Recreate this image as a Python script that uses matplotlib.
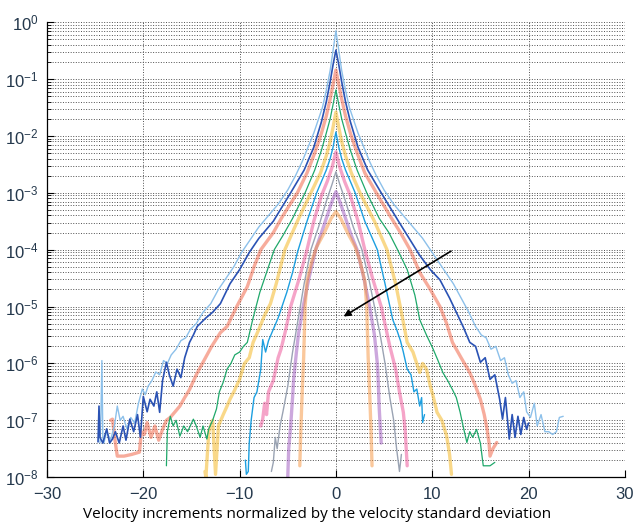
import numpy as np
import matplotlib.pyplot as plt
from matplotlib.ticker import LogFormatterSciNotation, FixedLocator, NullFormatter

plt.rcParams['font.family'] = ['Liberation Sans', 'DejaVu Sans']

# ------------------------------------------------------------
# Curves: x (normalized increment), log10(pdf)
# ------------------------------------------------------------
lb_x = [-24.5, -24.4, -24.3, -24.2, -24.1, -23.8, -23.4, -23.0, -22.7, -22.4, -22.1, -21.7,
        -21.3, -20.9, -20.5, -20.1, -19.8, -19.5, -19.1, -18.7, -18.3, -17.9, -17.5, -17.1,
        -16.6, -16.1, -15.6, -15.1, -14.5, -13.8, -13.0, -12.2, -11.4, -10.6, -9.8, -9.0,
        -8.0, -7.0, -6.0, -5.0, -4.2, -3.5, -2.9, -2.3, -1.8, -1.4, -1.0, -0.6, -0.3, 0.0,
        0.3, 0.6, 1.0, 1.4, 1.8, 2.3, 2.9, 3.5, 4.2, 5.0, 6.0, 7.0, 8.0, 9.0, 9.8, 10.6,
        11.4, 12.2, 13.0, 13.8, 14.5, 15.1, 15.6, 16.1, 16.6, 17.1, 17.5, 17.9, 18.3, 18.7,
        19.1, 19.5, 19.8, 20.2, 20.6, 20.9, 21.3, 21.7, 22.1, 22.5, 22.9, 23.2, 23.6]
lb_y = [-7.4, -6.9, -5.95, -7.3, -7.4, -7.2, -7.35, -7.1, -6.75, -7.0, -6.93, -7.15,
        -6.95, -7.05, -6.7, -6.45, -6.55, -6.4, -6.3, -6.15, -6.2, -5.95, -6.0, -5.85,
        -5.75, -5.6, -5.55, -5.4, -5.3, -5.1, -4.95, -4.7, -4.5, -4.3, -4.05, -3.85,
        -3.6, -3.4, -3.2, -2.95, -2.7, -2.45, -2.2, -1.95, -1.7, -1.5, -1.2, -0.85, -0.5, -0.15,
        -0.5, -0.85, -1.2, -1.5, -1.7, -1.95, -2.2, -2.45, -2.7, -2.95, -3.2, -3.4, -3.6, -3.8,
        -4.0, -4.2, -4.4, -4.6, -4.85, -5.1, -5.35, -5.5, -5.55, -5.75, -5.7, -5.95, -5.9,
        -6.2, -6.35, -6.3, -6.6, -6.5, -6.85, -6.95, -6.7, -7.1, -6.9, -7.2, -7.2, -7.25,
        -7.2, -6.95, -6.93]

db_x = [-24.7, -24.6, -24.5, -24.2, -23.8, -23.5, -23.2, -22.9, -22.5, -22.1, -21.8, -21.4,
        -21.0, -20.6, -20.3, -20.0, -19.6, -19.3, -18.9, -18.6, -18.3, -18.0, -17.6, -17.3,
        -16.9, -16.5, -16.1, -15.7, -15.2, -14.8, -14.4, -13.5, -12.8, -12.0, -11.0, -10.0,
        -9.0, -8.0, -6.5, -5.6, -4.7, -3.3, -2.3, -1.5, -1.0, -0.6, -0.3, 0.0,
        0.3, 0.6, 1.0, 1.5, 2.3, 3.3, 4.7, 5.6, 6.5, 7.6, 8.7, 9.8, 10.8, 11.8, 12.5, 13.2,
        13.9, 14.5, 15.0, 15.5, 16.0, 16.5, 17.0, 17.3, 17.6, 18.0, 18.3, 18.6, 18.9, 19.2,
        19.5, 19.8, 20.0]
db_y = [-7.38, -6.75, -7.3, -7.4, -7.15, -7.4, -7.33, -7.2, -7.4, -7.1, -7.35, -6.98,
        -7.2, -6.9, -7.3, -6.58, -6.85, -6.63, -6.75, -6.5, -6.86, -6.3, -5.98, -6.2,
        -6.4, -6.1, -6.25, -5.9, -5.63, -5.5, -5.35, -5.2, -5.1, -4.95, -4.6, -4.35,
        -4.05, -3.8, -3.5, -3.25, -3.0, -2.6, -2.2, -1.75, -1.4, -1.05, -0.75, -0.49,
        -0.75, -1.05, -1.4, -1.75, -2.2, -2.6, -3.0, -3.25, -3.5, -3.8, -4.1, -4.35, -4.53,
        -4.85, -5.1, -5.35, -5.63, -5.7, -5.98, -5.9, -6.28, -6.2, -6.63, -6.98, -6.6, -7.33,
        -6.9, -7.3, -6.93, -7.25, -6.95, -7.16, -7.05]

sa_x = [-23.4, -23.2, -22.9, -22.7, -22.0, -21.2, -20.4, -20.2, -19.9, -19.6, -19.2, -18.8,
        -18.4, -18.0, -17.6, -17.2, -16.7, -16.2, -15.7, -15.2, -14.5, -13.8, -12.9, -12.0,
        -11.3, -10.3, -9.2, -8.5, -7.8, -6.5, -5.5, -4.0, -3.0, -2.2, -1.5, -1.0, -0.6, -0.3,
        0.0, 0.3, 0.6, 1.0, 1.5, 2.2, 3.0, 4.2, 5.6, 6.7, 7.7, 8.7, 9.8, 10.8, 11.5, 12.1,
        13.0, 13.9, 14.5, 15.0, 15.4, 15.7, 15.9, 16.0, 16.3, 16.7]
sa_y = [-7.0, -6.98, -7.4, -7.63, -7.63, -7.6, -7.56, -7.2, -7.25, -7.04, -7.3, -7.1,
        -7.35, -7.16, -7.0, -6.95, -6.85, -6.75, -6.6, -6.46, -6.2, -5.98, -5.7, -5.46,
        -5.35, -5.0, -4.65, -4.3, -4.0, -3.7, -3.4, -3.0, -2.65, -2.3, -1.95, -1.65, -1.35, -1.1,
        -0.84, -1.1, -1.35, -1.65, -1.95, -2.3, -2.65, -3.0, -3.4, -3.7, -4.0, -4.4, -4.7, -5.0,
        -5.3, -5.63, -5.9, -6.16, -6.4, -6.63, -6.9, -7.16, -7.4, -7.63, -7.5, -7.39]

gr_x = [-17.6, -17.5, -17.2, -16.9, -16.6, -16.2, -15.8, -15.4, -14.8, -14.5, -14.1, -13.8,
        -13.4, -13.2, -12.8, -12.4, -12.1, -11.7, -11.3, -10.9, -10.5, -10.0, -9.6, -9.2,
        -8.6, -7.9, -7.2, -6.4, -5.5, -4.5, -3.2, -2.2, -1.5, -1.0, -0.6, -0.3, 0.0,
        0.3, 0.6, 1.0, 1.5, 2.2, 3.2, 4.5, 5.5, 6.4, 7.4, 8.2, 8.7, 9.4, 10.1, 10.6, 11.1,
        11.6, 12.1, 12.5, 12.9, 13.2, 13.6, 13.9, 14.2, 14.6, 15.0, 15.3, 15.6, 16.0, 16.5]
gr_y = [-7.8, -7.2, -6.93, -7.1, -7.0, -7.28, -7.1, -7.2, -6.98, -7.1, -7.3, -7.1,
        -7.33, -7.15, -7.0, -6.8, -6.5, -6.33, -6.1, -6.0, -5.85, -5.8, -5.7, -5.63,
        -5.2, -4.75, -4.4, -4.0, -3.75, -3.45, -3.0, -2.6, -2.25, -1.95, -1.7, -1.45, -1.19,
        -1.45, -1.7, -1.95, -2.25, -2.6, -3.0, -3.45, -3.7, -4.0, -4.35, -4.8, -5.23, -5.5,
        -5.75, -5.95, -6.16, -6.3, -6.46, -6.6, -6.86, -7.1, -7.39, -7.2, -7.3, -7.16, -7.4,
        -7.8, -7.8, -7.8, -7.74]

ye_x = [-13.6, -13.5, -13.2, -12.8, -12.5, -12.2, -11.7, -11.3, -11.0, -10.6, -10.0, -9.5,
        -9.0, -8.6, -8.0, -7.4, -6.8, -6.2, -5.3, -4.0, -2.6, -1.6, -1.0, -0.6, -0.3, 0.0,
        0.3, 0.6, 1.0, 1.6, 2.5, 4.0, 5.3, 6.2, 6.8, 7.4, 8.0, 8.7, 9.0, 9.4, 9.8, 10.1,
        10.5, 11.0, 11.5, 11.8, 12.0]
ye_y = [-7.9, -8.0, -7.2, -7.0, -7.95, -7.1, -6.9, -6.75, -6.63, -6.5, -6.28, -6.0,
        -5.9, -5.63, -5.4, -5.15, -4.95, -4.6, -4.0, -3.5, -3.0, -2.65, -2.35, -2.1, -1.85, -1.58,
        -1.85, -2.1, -2.35, -2.65, -3.0, -3.5, -4.0, -4.6, -5.1, -5.63, -5.8, -6.16, -6.0, -6.1,
        -6.4, -6.58, -6.86, -7.0, -7.28, -7.6, -7.95]

cy_x = [-9.4, -9.3, -9.1, -9.0, -8.8, -8.5, -8.2, -8.0, -7.8, -7.6, -7.3, -7.0, -6.5, -6.0,
        -5.5, -5.1, -4.5, -4.0, -3.0, -2.0, -1.0, -0.6, -0.3, 0.0,
        0.3, 0.6, 1.0, 2.0, 3.0, 4.3, 5.1, 5.9, 6.3, 6.7, 7.0, 7.4, 7.8, 8.1, 8.4, 8.7, 8.9,
        9.0, 9.2]
cy_y = [-7.7, -7.95, -7.9, -7.4, -7.0, -6.6, -6.5, -6.3, -6.1, -5.58, -5.8, -5.6, -5.4, -5.2,
        -4.95, -4.75, -4.4, -4.05, -3.5, -3.0, -2.6, -2.4, -2.2, -1.93,
        -2.2, -2.4, -2.6, -3.0, -3.5, -4.0, -4.6, -5.23, -5.4, -5.6, -5.8, -6.1, -6.2, -6.5,
        -6.45, -6.75, -6.6, -7.04, -6.9]

pk_x = [-7.8, -7.6, -7.4, -7.2, -7.0, -6.5, -6.0, -5.7, -5.2, -4.7, -3.8, -3.0, -2.3, -1.5,
        -0.9, -0.4, 0.0, 0.4, 0.9, 1.5, 2.3, 3.0, 3.8, 4.7, 5.6, 6.2, 6.6, 7.0, 7.2, 7.4]
pk_y = [-7.1, -6.98, -6.7, -6.9, -6.5, -6.3, -5.9, -5.75, -5.4, -5.0, -4.5, -4.0, -3.5, -3.05,
        -2.8, -2.55, -2.28, -2.55, -2.8, -3.05, -3.5, -4.0, -4.5, -5.0, -5.7, -6.1, -6.5,
        -6.86, -7.2, -7.8]

gy_x = [-6.7, -6.5, -6.3, -6.1, -5.8, -5.5, -5.0, -4.5, -4.0, -3.3, -2.6, -1.8, -1.0, -0.4,
        0.0, 0.4, 1.0, 1.8, 2.7, 3.4, 4.0, 4.6, 5.1, 5.6, 6.0, 6.3, 6.6, 6.8]
gy_y = [-7.9, -7.74, -7.3, -7.5, -7.1, -6.85, -6.4, -5.8, -5.3, -4.6, -4.0, -3.6, -3.15, -2.85,
        -2.63, -2.85, -3.15, -3.6, -4.0, -4.5, -5.0, -5.5, -6.0, -6.6, -7.0, -7.5, -7.9, -7.6]

pu_x = [-5.0, -4.9, -4.7, -4.5, -4.4, -4.1, -3.9, -3.4, -2.8, -2.1, -1.6, -1.0, -0.4, 0.0,
        0.4, 1.0, 1.6, 2.2, 2.9, 3.5, 4.0, 4.3, 4.4, 4.5, 4.6, 4.7]
pu_y = [-8.0, -7.5, -7.1, -6.6, -6.3, -5.8, -5.5, -5.0, -4.5, -4.0, -3.75, -3.45, -3.15, -2.98,
        -3.15, -3.45, -3.75, -4.0, -4.5, -5.0, -5.5, -6.0, -6.33, -6.8, -7.1, -7.4]

or_x = [-3.75, -3.65, -3.5, -3.35, -3.2, -3.0, -2.5, -2.0, -1.2, -0.5, 0.0,
        0.5, 1.2, 2.0, 2.5, 3.0, 3.2, 3.35, 3.5, 3.65, 3.75]
or_y = [-7.8, -7.2, -6.5, -5.9, -5.0, -4.55, -4.2, -3.95, -3.7, -3.45, -3.33,
        -3.45, -3.7, -3.95, -4.2, -4.55, -5.0, -5.9, -6.5, -7.2, -7.8]

# tick positions
x_ticks = [-30, -20, -10, 0, 10, 20, 30]
y_decades = [-8, -7, -6, -5, -4, -3, -2, -1, 0]

# (x, log10 y, colour, width, alpha)
curves = [
    (sa_x, sa_y, '#f2694c', 2.4, 0.55),
    (ye_x, ye_y, '#f6bf3a', 2.4, 0.6),
    (pk_x, pk_y, '#ee5a9c', 2.4, 0.55),
    (pu_x, pu_y, '#9a52bc', 2.4, 0.5),
    (or_x, or_y, '#f7923a', 2.4, 0.5),
    (lb_x, lb_y, '#8cc0ea', 1.0, 1.0),
    (db_x, db_y, '#2a52b4', 1.2, 1.0),
    (gr_x, gr_y, '#1fa86a', 0.9, 1.0),
    (cy_x, cy_y, '#1c9fe0', 1.0, 1.0),
    (gy_x, gy_y, '#9aa3b3', 1.0, 1.0),
]

fig = plt.figure(figsize=(6.35, 5.29), dpi=100)
ax = fig.add_axes([0.074, 0.098, 0.910, 0.860])

for cx, cyv, col, lw, al in curves:
    ax.plot(cx, 10.0 ** np.array(cyv), color=col, lw=lw, alpha=al,
            solid_capstyle='round', solid_joinstyle='round')

ax.set_yscale('log')
ax.set_xlim(-30, 30)
ax.set_ylim(1e-8, 1)

y_major = [10.0 ** d for d in y_decades]
y_minor = [m * 10.0 ** d for d in y_decades[:-1] for m in range(2, 10)]
ax.xaxis.set_major_locator(FixedLocator(x_ticks))
ax.yaxis.set_major_locator(FixedLocator(y_major))
ax.yaxis.set_major_formatter(LogFormatterSciNotation())
ax.yaxis.set_minor_locator(FixedLocator(y_minor))
ax.yaxis.set_minor_formatter(NullFormatter())

ax.grid(True, which='major', axis='both', linestyle=':', color='#505050', lw=0.7)
ax.grid(True, which='minor', axis='y', linestyle=':', color='#505050', lw=0.7)

for s in ['top', 'right']:
    ax.spines[s].set_visible(False)
for s in ['left', 'bottom']:
    ax.spines[s].set_linewidth(0.9)

ax.tick_params(which='major', direction='in', length=5, width=0.8,
               labelsize=12, labelcolor='#24384c', top=False, right=False)
ax.tick_params(which='minor', direction='in', length=3, width=0.6, right=False)
ax.tick_params(axis='x', pad=7)
ax.tick_params(axis='y', pad=6)

ax.annotate('', xy=(0.55, 10 ** -5.2), xytext=(12.2, 10 ** -4.0),
            arrowprops=dict(arrowstyle='-|>', color='black', lw=1.2, mutation_scale=10))

fig.text(0.5, 15 / 529, 'Velocity increments normalized by the velocity standard deviation',
         family=['Open Sans', 'DejaVu Sans'], fontsize=11, ha='center', va='center')

fig.savefig('out.png', dpi=100)
